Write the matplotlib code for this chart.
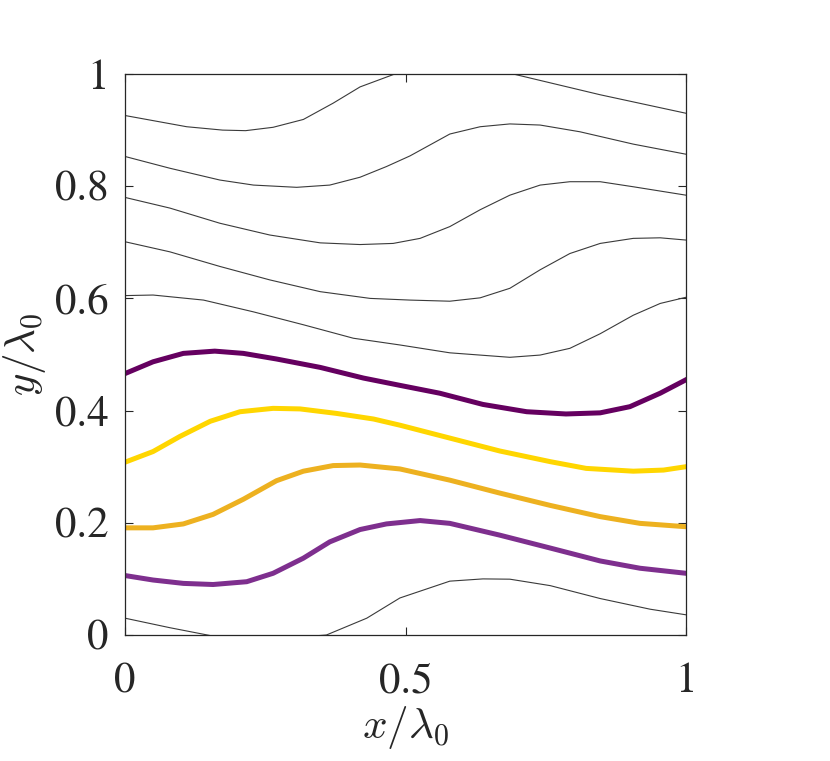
import matplotlib

matplotlib.use("Agg")
import matplotlib.pyplot as plt

# Streamline samples (x/lambda0, y/lambda0)
x_a = [0.0, 0.11, 0.174, 0.215, 0.264, 0.318, 0.371, 0.419, 0.481, 0.53, 0.585, 0.64, 0.692, 0.847, 1.0]
y_a = [0.926, 0.906, 0.900, 0.899, 0.905, 0.919, 0.948, 0.977, 1.0, 1.012, 1.018, 1.012, 1.0, 0.963, 0.930]

x_b = [0.0, 0.080, 0.169, 0.229, 0.306, 0.365, 0.419, 0.466, 0.508, 0.579, 0.633, 0.686, 0.74, 0.811, 0.906, 1.0]
y_b = [0.853, 0.832, 0.811, 0.802, 0.798, 0.802, 0.816, 0.835, 0.854, 0.893, 0.906, 0.911, 0.909, 0.897, 0.875, 0.857]

x_c = [0.0, 0.080, 0.169, 0.258, 0.348, 0.419, 0.478, 0.526, 0.579, 0.633, 0.686, 0.74, 0.793, 0.847, 0.906, 1.0]
y_c = [0.780, 0.761, 0.734, 0.713, 0.699, 0.696, 0.698, 0.707, 0.728, 0.758, 0.784, 0.802, 0.808, 0.808, 0.799, 0.784]

x_d = [0.0, 0.080, 0.169, 0.258, 0.348, 0.437, 0.508, 0.579, 0.633, 0.686, 0.74, 0.793, 0.847, 0.906, 0.954, 1.0]
y_d = [0.701, 0.683, 0.657, 0.633, 0.612, 0.600, 0.597, 0.595, 0.601, 0.618, 0.651, 0.680, 0.698, 0.707, 0.708, 0.704]

x_e = [0.0, 0.050, 0.140, 0.229, 0.318, 0.407, 0.49, 0.579, 0.686, 0.74, 0.793, 0.847, 0.906, 0.954, 1.0]
y_e = [0.605, 0.606, 0.597, 0.576, 0.553, 0.529, 0.517, 0.503, 0.495, 0.499, 0.511, 0.537, 0.570, 0.591, 0.602]

x_j = [0.0, 0.080, 0.152, 0.255, 0.359, 0.431, 0.49, 0.579, 0.638, 0.686, 0.758, 0.847, 0.936, 1.0]
y_j = [0.030, 0.013, -0.001, -0.008, 0.0, 0.030, 0.066, 0.096, 0.100, 0.0995, 0.088, 0.065, 0.046, 0.036]

# Highlighted streamlines
x_dark = [0.0, 0.050, 0.104, 0.160, 0.211, 0.270, 0.348, 0.425, 0.49, 0.561, 0.638, 0.716, 0.786, 0.847, 0.900, 0.954, 1.0]
y_dark = [0.466, 0.487, 0.502, 0.506, 0.502, 0.492, 0.477, 0.458, 0.445, 0.431, 0.411, 0.398, 0.394, 0.396, 0.407, 0.431, 0.455]

x_yel = [0.0, 0.05, 0.098, 0.152, 0.205, 0.264, 0.312, 0.377, 0.443, 0.49, 0.579, 0.668, 0.758, 0.822, 0.906, 0.960, 1.0]
y_yel = [0.308, 0.327, 0.354, 0.381, 0.398, 0.404, 0.403, 0.395, 0.385, 0.374, 0.351, 0.328, 0.309, 0.297, 0.292, 0.294, 0.300]

x_org = [0.0, 0.05, 0.104, 0.157, 0.211, 0.270, 0.318, 0.371, 0.419, 0.49, 0.579, 0.668, 0.758, 0.847, 0.918, 1.0]
y_org = [0.191, 0.191, 0.198, 0.215, 0.242, 0.275, 0.292, 0.302, 0.303, 0.296, 0.276, 0.253, 0.231, 0.211, 0.199, 0.193]

x_pur = [0.0, 0.05, 0.104, 0.157, 0.217, 0.264, 0.318, 0.365, 0.419, 0.466, 0.526, 0.579, 0.668, 0.758, 0.847, 0.918, 1.0]
y_pur = [0.106, 0.098, 0.092, 0.090, 0.095, 0.110, 0.137, 0.166, 0.188, 0.198, 0.204, 0.199, 0.178, 0.155, 0.132, 0.119, 0.110]

plt.rcParams["mathtext.fontset"] = "cm"
plt.rcParams["font.family"] = ["STIXGeneral", "Liberation Serif"]

fig = plt.figure(figsize=(8.3, 7.61), dpi=100)
ax = fig.add_axes([125 / 830, 126 / 761, 561 / 830, 561 / 761])

for xs, ys in [(x_a, y_a), (x_b, y_b), (x_c, y_c), (x_d, y_d), (x_e, y_e), (x_j, y_j)]:
    ax.plot(xs, ys, color="#3a3a3a", lw=0.8)

ax.plot(x_dark, y_dark, color="#650060", lw=3.6)
ax.plot(x_yel, y_yel, color="#FFD600", lw=3.6)
ax.plot(x_org, y_org, color="#EDB120", lw=3.6)
ax.plot(x_pur, y_pur, color="#7E2F8E", lw=3.6)

ax.set_xlim(0, 1)
ax.set_ylim(0, 1)
ax.set_xticks([0, 0.5, 1])
ax.set_xticklabels(["0", "0.5", "1"])
ax.set_yticks([0, 0.2, 0.4, 0.6, 0.8, 1])
ax.set_yticklabels(["0", "0.2", "0.4", "0.6", "0.8", "1"])
ax.tick_params(direction="in", length=6, width=0.8, top=True, right=True,
               labelsize=31, colors="#262626", pad=12)
ax.tick_params(axis="x", pad=20)
for sp in ax.spines.values():
    sp.set_color("#262626")
    sp.set_linewidth(0.9)

ax.set_xlabel(r"$x/\lambda_0$", fontsize=31, color="#262626", labelpad=2)
ax.set_ylabel(r"$y/\lambda_0$", fontsize=31, color="#262626", labelpad=5)

fig.savefig("out.png", dpi=100)
